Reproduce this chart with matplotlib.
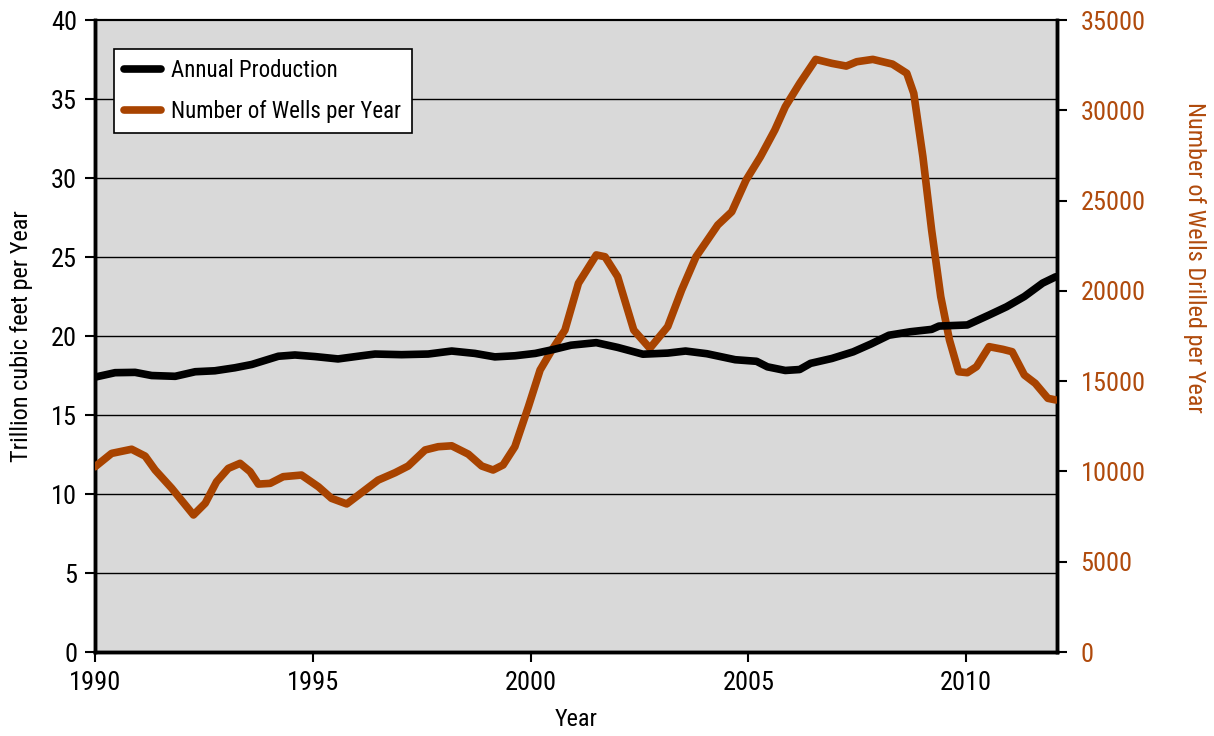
import matplotlib
matplotlib.use("Agg")
import matplotlib.pyplot as plt

plt.rcParams['font.family'] = ['Roboto Condensed', 'Archivo Narrow', 'PT Sans Narrow', 'DejaVu Sans']

# -----------------------------
# Data
# -----------------------------
prod_years = [1990.0, 1990.46, 1990.92, 1991.30, 1991.84, 1992.30, 1992.75, 1993.21,
              1993.60, 1994.21, 1994.59, 1995.05, 1995.58, 1996.12, 1996.43, 1997.04,
              1997.65, 1998.19, 1998.72, 1999.18, 1999.64, 2000.11, 2000.53, 2000.93,
              2001.51, 2002.0, 2002.58, 2003.15, 2003.56, 2004.05, 2004.70, 2005.19,
              2005.44, 2005.85, 2006.18, 2006.43, 2006.92, 2007.41, 2007.82, 2008.23,
              2008.72, 2009.21, 2009.38, 2010.03, 2010.53, 2010.93, 2011.34, 2011.76,
              2012.06]
production = [17.4, 17.68, 17.7, 17.5, 17.45, 17.74, 17.8, 17.99,
              18.2, 18.72, 18.8, 18.7, 18.55, 18.75, 18.86, 18.82,
              18.86, 19.05, 18.9, 18.68, 18.75, 18.9, 19.15, 19.42,
              19.58, 19.28, 18.85, 18.92, 19.05, 18.88, 18.5, 18.4,
              18.05, 17.82, 17.88, 18.27, 18.58, 19.0, 19.5, 20.05,
              20.27, 20.42, 20.63, 20.7, 21.33, 21.85, 22.5, 23.35,
              23.75]

well_years = [1990.0, 1990.38, 1990.84, 1991.15, 1991.38, 1991.76, 1992.26, 1992.53,
              1992.79, 1993.06, 1993.33, 1993.56, 1993.75, 1994.02, 1994.32, 1994.74,
              1995.13, 1995.43, 1995.78, 1996.20, 1996.50, 1996.89, 1997.19, 1997.58,
              1997.88, 1998.19, 1998.57, 1998.88, 1999.14, 1999.37, 1999.64, 1999.95,
              2000.22, 2000.49, 2000.79, 2001.10, 2001.51, 2001.71, 2002.00, 2002.37,
              2002.74, 2003.15, 2003.47, 2003.80, 2004.30, 2004.62, 2004.95, 2005.28,
              2005.61, 2005.85, 2006.18, 2006.55, 2006.92, 2007.25, 2007.49, 2007.86,
              2008.31, 2008.64, 2008.80, 2009.01, 2009.21, 2009.42, 2009.62, 2009.83,
              2010.03, 2010.24, 2010.53, 2010.85, 2011.06, 2011.34, 2011.59, 2011.88,
              2012.06]
wells = [10260, 11000, 11230, 10850, 10080, 9070, 7590, 8240,
         9430, 10170, 10450, 9990, 9300, 9340, 9710, 9800,
         9150, 8510, 8200, 8970, 9520, 9930, 10300, 11190,
         11370, 11420, 10960, 10300, 10080, 10360, 11370, 13580,
         15620, 16720, 17830, 20420, 21990, 21890, 20790, 17830,
         16820, 18020, 20050, 21890, 23650, 24380, 26140, 27430,
         28910, 30200, 31490, 32820, 32600, 32450, 32690, 32820,
         32560, 32050, 30940, 27430, 23370, 19680, 17280, 15520,
         15470, 15800, 16910, 16760, 16630, 15340, 14880, 14050,
         13960]

left_ticks = [0, 5, 10, 15, 20, 25, 30, 35, 40]
right_ticks = [0, 5000, 10000, 15000, 20000, 25000, 30000, 35000]
year_ticks = [1990, 1995, 2000, 2005, 2010]

orange = '#a84300'
orange_text = '#b04a0c'

# -----------------------------
# Plot
# -----------------------------
fig = plt.figure(figsize=(12.14, 7.36), dpi=100)
ax = fig.add_axes([0.0783, 0.1141, 0.7924, 0.8587])
ax2 = ax.twinx()

ax.set_facecolor('#d9d9d9')
ax.set_zorder(ax2.get_zorder() - 1)
ax2.patch.set_visible(False)

for t in left_ticks[1:-1]:
    ax.axhline(t, color='black', lw=1.0, zorder=1)

# production is drawn on the right axes (scaled) so it sits on top of the wells line
ax2.plot([], [], color='black', lw=5.5, solid_capstyle='round', label='Annual Production')
ax2.plot(well_years, wells, color=orange, lw=5.5, solid_capstyle='round', solid_joinstyle='round',
         label='Number of Wells per Year', zorder=3)
ax2.plot(prod_years, [p * 35000 / 40 for p in production], color='black', lw=5.5,
         solid_capstyle='round', solid_joinstyle='round', zorder=4)

ax.set_xlim(1990, 2012.09)
ax.set_ylim(0, 40)
ax2.set_ylim(0, 35000)

ax.set_xticks(year_ticks)
ax.set_yticks(left_ticks)
ax2.set_yticks(right_ticks)

ax.tick_params(axis='both', direction='out', length=7, width=1.5, labelsize=19, pad=6)
ax.tick_params(axis='x', pad=7)
ax2.tick_params(axis='y', direction='out', length=7, width=1.5, labelsize=19,
                labelcolor=orange_text, pad=10)

for a in (ax, ax2):
    for s in ['left', 'bottom', 'right']:
        a.spines[s].set_linewidth(2.5)
    a.spines['top'].set_linewidth(1.5)

xl = ax.set_xlabel('Year', fontsize=17.5)
yl = ax.set_ylabel('Trillion cubic feet per Year', fontsize=17.5)
rl = ax2.set_ylabel('Number of Wells Drilled per Year', fontsize=17.5, color=orange_text,
                    rotation=270)
for lab in (xl, yl, rl):
    lab.set_ha('center')
    lab.set_va('center')
ax.xaxis.set_label_coords(0.5, -0.107)
ax.yaxis.set_label_coords(-0.076, 0.5)
ax2.yaxis.set_label_coords(1.1425, 0.625)

h, l = ax2.get_legend_handles_labels()
leg = ax2.legend(h, l, loc='upper left', bbox_to_anchor=(0.0198, 0.954), borderaxespad=0,
                 fontsize=16.5, frameon=True, fancybox=False, edgecolor='black',
                 framealpha=1, handlelength=1.6, handletextpad=0.45, borderpad=0.45,
                 labelspacing=0.75)
leg.get_frame().set_linewidth(1.2)

fig.savefig('out.png', dpi=100)
